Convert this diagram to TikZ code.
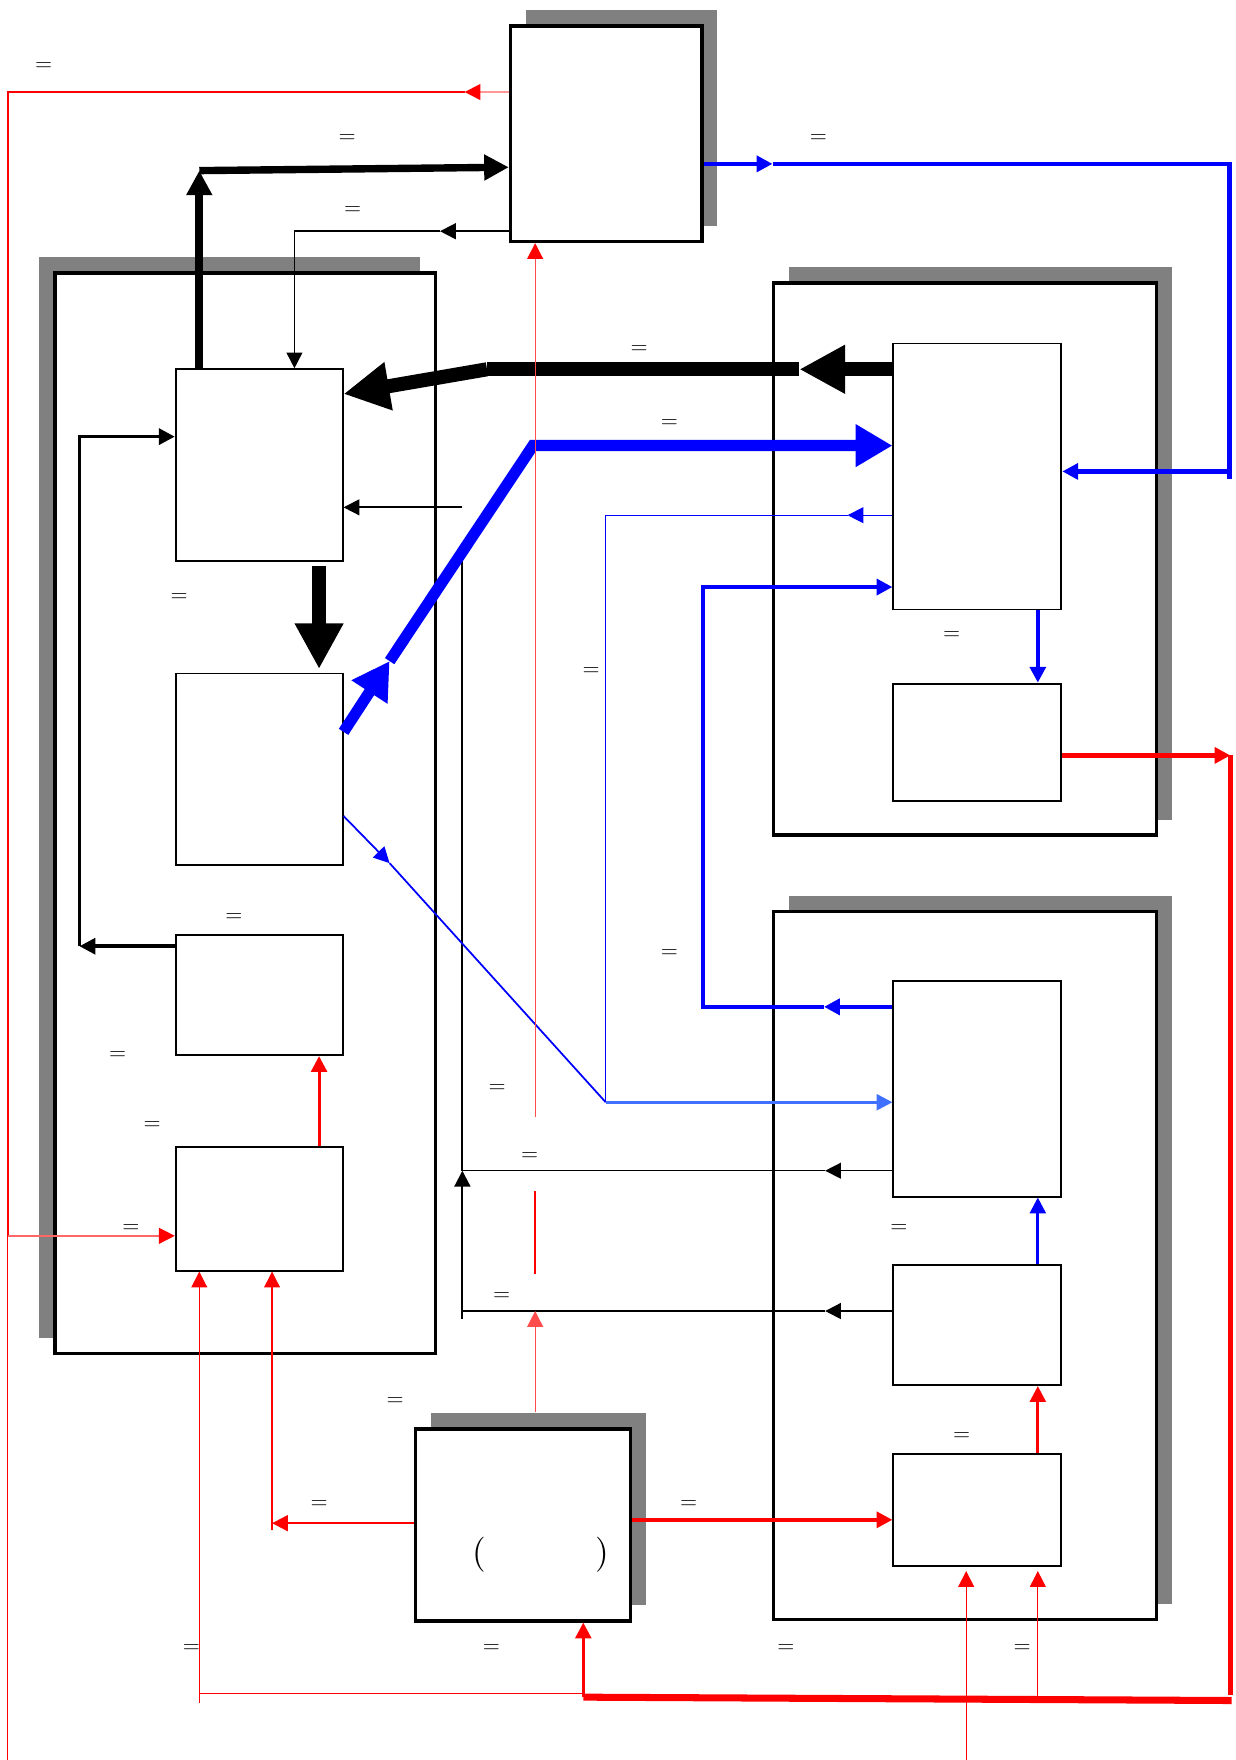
\documentclass[tikz,border=0pt]{standalone}
\usepackage{fontspec}
\usepackage{tikz}
\usetikzlibrary{arrows,arrows.meta,calc,fit,shadows,positioning}
\definecolor{lightblue}{RGB}{64,112,255}
\tikzset{
  innerbox/.style={draw,fill=white,inner sep=0pt,line width=0.55pt},
  outerbox/.style={draw,fill=white,inner sep=0pt,line width=1pt},
  shadowR/.style={drop shadow={shadow xshift=1.55mm,shadow yshift=1.55mm,fill=gray,opacity=1}},
  shadowL/.style={drop shadow={shadow xshift=-1.6mm,shadow yshift=1.55mm,fill=gray,opacity=1}},
  eqlbl/.style={font=\fontsize{5}{6}\selectfont,text=black!85,inner sep=0pt},
  tipS/.style={-{Triangle[length=4.5pt,width=4.5pt]}},
  tipT/.style={-{Triangle[length=7pt,width=7pt]}},
  tipH/.style={-{Triangle[length=13pt,width=13pt]}},
  tipB/.style={-{Triangle[length=10.5pt,width=11.5pt]}},
  redtip/.style={-{Triangle[length=4.5pt,width=4.5pt,red]}},
}
\begin{document}
\begin{tikzpicture}[x=0.11196mm,y=-0.11224mm]
\useasboundingbox (0,0) rectangle (1104,1568);
\node[outerbox,shadowR,fit={(456,23) (627,215)}] (T) {};
\node[outerbox,shadowL,fit={(49,243) (389,1206)}] (L) {};
\node[outerbox,shadowR,fit={(691,252) (1033,744)}] (RU) {};
\node[outerbox,shadowR,fit={(691,812) (1033,1443)}] (RL) {};
\node[outerbox,shadowR,fit={(371,1273) (563,1444)}] (B) {};
\node[innerbox,fit={(157,329) (306,500)}] (L1) {};
\node[innerbox,fit={(157,600) (306,771)}] (L2) {};
\node[innerbox,fit={(157,833) (306,940)}] (L3) {};
\node[innerbox,fit={(157,1022) (306,1132)}] (L4) {};
\node[innerbox,fit={(798,306) (948,543)}] (R1) {};
\node[innerbox,fit={(798,609) (948,714)}] (R2) {};
\node[innerbox,fit={(798,874) (948,1066)}] (R3) {};
\node[innerbox,fit={(798,1127) (948,1234)}] (R4) {};
\node[innerbox,fit={(798,1295) (948,1395)}] (R5) {};
\node[font=\fontsize{10}{12}\selectfont] (Bp) at (483,1385) {(\hspace{31pt})};
% black
\coordinate (tA) at (393,206); \coordinate (tB) at (263,206);
\draw[line width=0.5pt,tipS] (tA -| T.west) -- (tA);
\draw[line width=0.5pt,tipS] (tA) -- (tB) -- (tB |- L1.north);
\coordinate (uA) at (178,152); \coordinate (uB) at (300,149);
\draw[line width=2.2pt,tipT] (uA |- L1.north) -- (uA);
\draw[line width=2.1pt,tipT] (uA) -- (uB -| T.west);
\coordinate (hA) at (714,329); \coordinate (hB) at (435,329); \coordinate (hC) at (250,351);
\draw[line width=4pt,tipH] (hA -| R1.west) -- (hA);
\draw[line width=4pt] (hA) -- (hB);
\draw[line width=4pt,tipH] (hB) -- (hC -| L1.east);
\coordinate (vA) at (285,550);
\draw[line width=4pt,tipH,shorten <=1pt,shorten >=1pt] (vA |- L1.south) -- (vA |- L2.north);
\coordinate (wA) at (71,843); \coordinate (wB) at (71,389);
\draw[line width=1pt,tipS] (wA -| L3.west) -- (wA);
\draw[line width=1pt,tipS] (wA) -- (wB) -- (wB -| L1.west);
\coordinate (xA) at (413,452); \coordinate (xB) at (413,484);
\draw[line width=0.5pt,tipS] (xA) -- (xA -| L1.east);
\coordinate (yA) at (737,1043); \coordinate (yB) at (413,1043);
\draw[line width=0.4pt,tipS] (yA -| R3.west) -- (yA);
\draw[line width=0.4pt] (yA) -- (yB);
\coordinate (zA) at (737,1168); \coordinate (zB) at (413,1168); \coordinate (zC) at (413,1175);
\draw[line width=0.6pt,tipS] (zA -| R4.west) -- (zA);
\draw[line width=0.6pt] (zA) -- (zB);
\draw[line width=0.6pt,tipS] (zC) -- (yB);
\draw[line width=0.6pt] (yB) -- (xB);
% blue
\coordinate (bA) at (690,146); \coordinate (bB) at (1098,146); \coordinate (bC) at (1098,420); \coordinate (bD) at (1098,427);
\draw[blue,line width=1.3pt,tipS] (bA -| T.east) -- (bA);
\draw[blue,line width=1.3pt] (bA) -- (bB) -- (bD);
\draw[blue,line width=1.3pt,tipS] (bC) -- (bC -| R1.east);
\coordinate (bE) at (927,570);
\draw[blue,line width=1.3pt,tipS] (bE |- R1.south) -- (bE |- R2.north);
\coordinate (cA) at (250,652); \coordinate (cB) at (348,589); \coordinate (cC) at (476,397);
\draw[blue,line width=3.2pt,tipB] (cA -| L2.east) -- (cB);
\draw[blue,line width=3.2pt,tipB] (cB) -- (cC) -- (cC -| R1.west);
\coordinate (dA) at (250,727); \coordinate (dB) at (348,769); \coordinate (dC) at (541,982);
\draw[blue,line width=0.5pt,tipS] (dA -| L2.east) -- (dB);
\draw[blue,line width=0.5pt] (dB) -- (dC);
\coordinate (eA) at (757,459); \coordinate (eB) at (541,459);
\draw[blue,line width=0.4pt,tipS] (eA -| R1.west) -- (eA);
\draw[blue,line width=0.4pt] (eA) -- (eB) -- (dC);
\draw[lightblue,line width=0.8pt,tipS] (dC) -- (dC -| R3.west);
\coordinate (fA) at (736,897); \coordinate (fB) at (628,897); \coordinate (fC) at (628,523);
\draw[blue,line width=1.3pt,tipS] (fA -| R3.west) -- (fA);
\draw[blue,line width=1.3pt,tipS] (fA) -- (fB) -- (fC) -- (fC -| R1.west);
\coordinate (gA) at (927,1100);
\draw[blue,line width=0.8pt,tipS] (gA |- R4.north) -- (gA |- R3.south);
% red
\coordinate (rA) at (415,82); \coordinate (rB) at (7,82); \coordinate (rC) at (7,1101); \coordinate (rD) at (7,1568);
\draw[red!40,line width=0.5pt,redtip] (rA -| T.west) -- (rA);
\draw[red,line width=0.7pt] (rA) -- (rB) -- (rC);
\draw[red,line width=0.35pt] (rC) -- (rD);
\draw[red!60,line width=0.4pt,redtip] (rC) -- (rC -| L4.west);
\coordinate (sA) at (285,990);
\draw[red,line width=0.85pt,tipS] (sA |- L4.north) -- (sA |- L3.south);
\coordinate (pA) at (178,1517); \coordinate (pB) at (178,1509); \coordinate (pC) at (521,1509);
\draw[red,line width=0.35pt,tipS] (pA) -- (pA |- L4.south);
\draw[red,line width=0.35pt] (pB) -- (pC);
\coordinate (qA) at (243,1357); \coordinate (qB) at (243,1363);
\draw[red,line width=0.6pt,tipS] (qA -| B.west) -- (qA);
\draw[red,line width=0.35pt,tipS] (qB) -- (qB |- L4.south);
\coordinate (kA) at (1099,673); \coordinate (kB) at (1099,1510); \coordinate (kC) at (1100,1515); \coordinate (kD) at (521,1512);
\draw[red,line width=1.4pt,tipS] (kA -| R2.east) -- (kA);
\draw[red,line width=1.4pt] (kA) -- (kB);
\coordinate (oA) at (863,1568); \coordinate (oB) at (927,1512);
\draw[red,line width=0.35pt,tipS,shorten >=1.2pt] (oA) -- (oA |- R5.south);
\draw[red,line width=0.35pt,tipS,shorten >=1.2pt] (oB) -- (oB |- R5.south);
\draw[red,line width=2pt] (kC) -- (kD);
\draw[red,line width=0.9pt,tipS] (kD) -- (kD |- B.south);
\coordinate (mA) at (700,1354);
\draw[red,line width=1pt,tipS] (mA -| B.east) -- (mA -| R5.west);
\coordinate (nA) at (927,1260);
\draw[red,line width=0.85pt,tipS] (nA |- R5.north) -- (nA |- R4.south);
\coordinate (jA) at (478,1258); \coordinate (jB) at (478,1135); \coordinate (jC) at (478,1061); \coordinate (jD) at (478,995);
\draw[red!70,line width=0.35pt,tipS] (jA) -- (jA |- zB);
\draw[red,line width=0.7pt] (jB) -- (jC);
\draw[red!70,line width=0.35pt,redtip] (jD) -- (jD |- T.south);
\foreach \x/\y [count=\n] in {39/59,310/123,315/187,731/123,571/311,598/377,160/532,528/598,850/566,209/817,598/849,105/940,444/969,136/1002,473/1030,117/1094,803/1094,448/1155,353/1248,859/1279,285/1340,615/1340,171/1468,439/1468,702/1468,913/1468}
  \node[eqlbl] (eq\n) at (\x,\y) {=};
\end{tikzpicture}
\end{document}
